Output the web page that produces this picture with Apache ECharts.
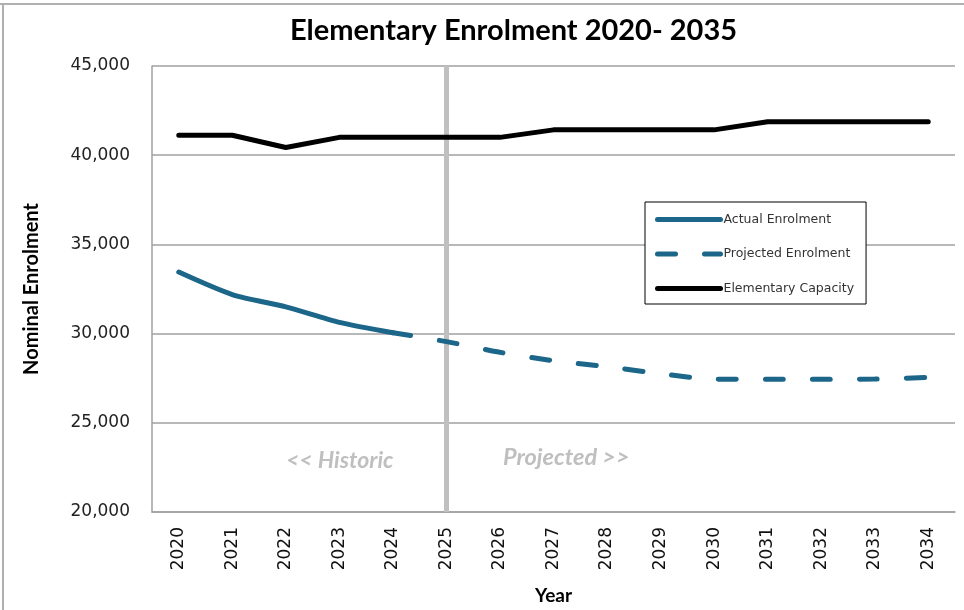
<!DOCTYPE html>
<html><head><meta charset="utf-8">
<script src="https://cdn.jsdelivr.net/npm/echarts@6/dist/echarts.min.js"></script>
<style>html,body{margin:0;padding:0;background:#fff}#c{width:964px;height:610px}</style>
</head><body><div id="c"></div>
<script>
const years = ['2020','2021','2022','2023','2024','2025','2026','2027','2028','2029','2030','2031','2032','2033','2034'];
const actual = [33450, 32190, 31500, 30630, 30050, null, null, null, null, null, null, null, null, null, null];
const projected = [null, null, null, null, 30050, 29550, 28950, 28480, 28150, 27750, 27450, 27440, 27440, 27450, 27550];
const capacity = [41120, 41120, 40430, 41000, 41000, 41000, 41000, 41420, 41420, 41420, 41420, 41880, 41880, 41880, 41880];
const yTicks = {min: 20000, max: 45000, step: 5000};
const dividerYear = '2025';

const chart = echarts.init(document.getElementById('c'), null, {renderer: 'canvas'});
const blue = '#1b6689';
chart.setOption({
  animation: false,
  title: {
    text: 'Elementary Enrolment 2020- 2035',
    left: 285, top: 11,
    textStyle: {fontFamily: 'Lato', fontWeight: 'bold', fontSize: 29, color: '#000'}
  },
  grid: {left: 152, right: 9, top: 66, bottom: 97},
  legend: {
    orient: 'vertical', left: 645, top: 202,
    padding: [11, 12, 9, 10],
    itemWidth: 63, itemHeight: 14, itemGap: 21.5,
    backgroundColor: '#fff', borderColor: '#000', borderWidth: 1,
    itemStyle: {opacity: 0},
    lineStyle: {width: 5, cap: 'round'},
    textStyle: {fontFamily: 'DejaVu Sans', fontSize: 12.5, color: '#333', padding: [0, 0, 0, -2]},
    data: ['Actual Enrolment', 'Projected Enrolment', 'Elementary Capacity']
  },
  xAxis: {
    type: 'category', data: years, boundaryGap: true,
    name: 'Year', nameLocation: 'middle', nameGap: 74,
    nameTextStyle: {fontFamily: 'Lato', fontWeight: 'bold', fontSize: 19, color: '#000'},
    axisLine: {lineStyle: {color: '#a0a0a0', width: 1.5}},
    axisTick: {show: false},
    axisLabel: {rotate: 90, margin: 15, fontFamily: 'DejaVu Sans', fontSize: 17, color: '#111'},
    splitLine: {show: false}
  },
  yAxis: {
    type: 'value', min: yTicks.min, max: yTicks.max, interval: yTicks.step,
    name: 'Nominal Enrolment', nameLocation: 'middle', nameGap: 110, nameRotate: 90,
    nameTextStyle: {fontFamily: 'Lato', fontWeight: 'bold', fontSize: 20, color: '#000'},
    axisLine: {show: true, lineStyle: {color: '#a0a0a0', width: 1.5}},
    axisTick: {show: false},
    axisLabel: {margin: 22, fontFamily: 'DejaVu Sans', fontSize: 17, color: '#222',
      formatter: v => v.toLocaleString('en-US')},
    splitLine: {show: true, lineStyle: {color: '#a0a0a0', width: 1.5}}
  },
  graphic: [
    {type: 'line', shape: {x1: 0, y1: 4, x2: 964, y2: 4}, style: {stroke: '#b0b0b0', lineWidth: 2}},
    {type: 'line', shape: {x1: 3, y1: 4, x2: 3, y2: 610}, style: {stroke: '#b0b0b0', lineWidth: 2}},
    {type: 'text', left: 286, top: 449, style: {text: '<< Historic', fontFamily: 'Lato', fontStyle: 'italic', fontWeight: 'bold', fontSize: 23, fill: '#bfbfbf'}},
    {type: 'text', left: 503, top: 446, style: {text: 'Projected >>', fontFamily: 'Lato', fontStyle: 'italic', fontWeight: 'bold', fontSize: 23.5, fill: '#bfbfbf'}}
  ],
  series: [
    {
      name: 'Actual Enrolment', type: 'line', data: actual, symbol: 'none', showSymbol: false,
      smooth: 0.25, connectNulls: false, z: 3,
      lineStyle: {color: blue, width: 5, cap: 'round'}, itemStyle: {color: blue},
      markLine: {
        silent: true, symbol: 'none', label: {show: false},
        lineStyle: {color: '#c0c0c0', width: 5, type: 'solid'},
        data: [{xAxis: dividerYear}], z: 1
      }
    },
    {
      name: 'Projected Enrolment', type: 'line', data: projected, symbol: 'none', showSymbol: false,
      smooth: 0.25, z: 3,
      lineStyle: {color: blue, width: 5, type: [18, 29], cap: 'round'}, itemStyle: {color: blue}
    },
    {
      name: 'Elementary Capacity', type: 'line', data: capacity, symbol: 'none', showSymbol: false,
      z: 3,
      lineStyle: {color: '#000', width: 5, cap: 'round', join: 'round'}, itemStyle: {color: '#000'}
    }
  ]
});
</script></body></html>
